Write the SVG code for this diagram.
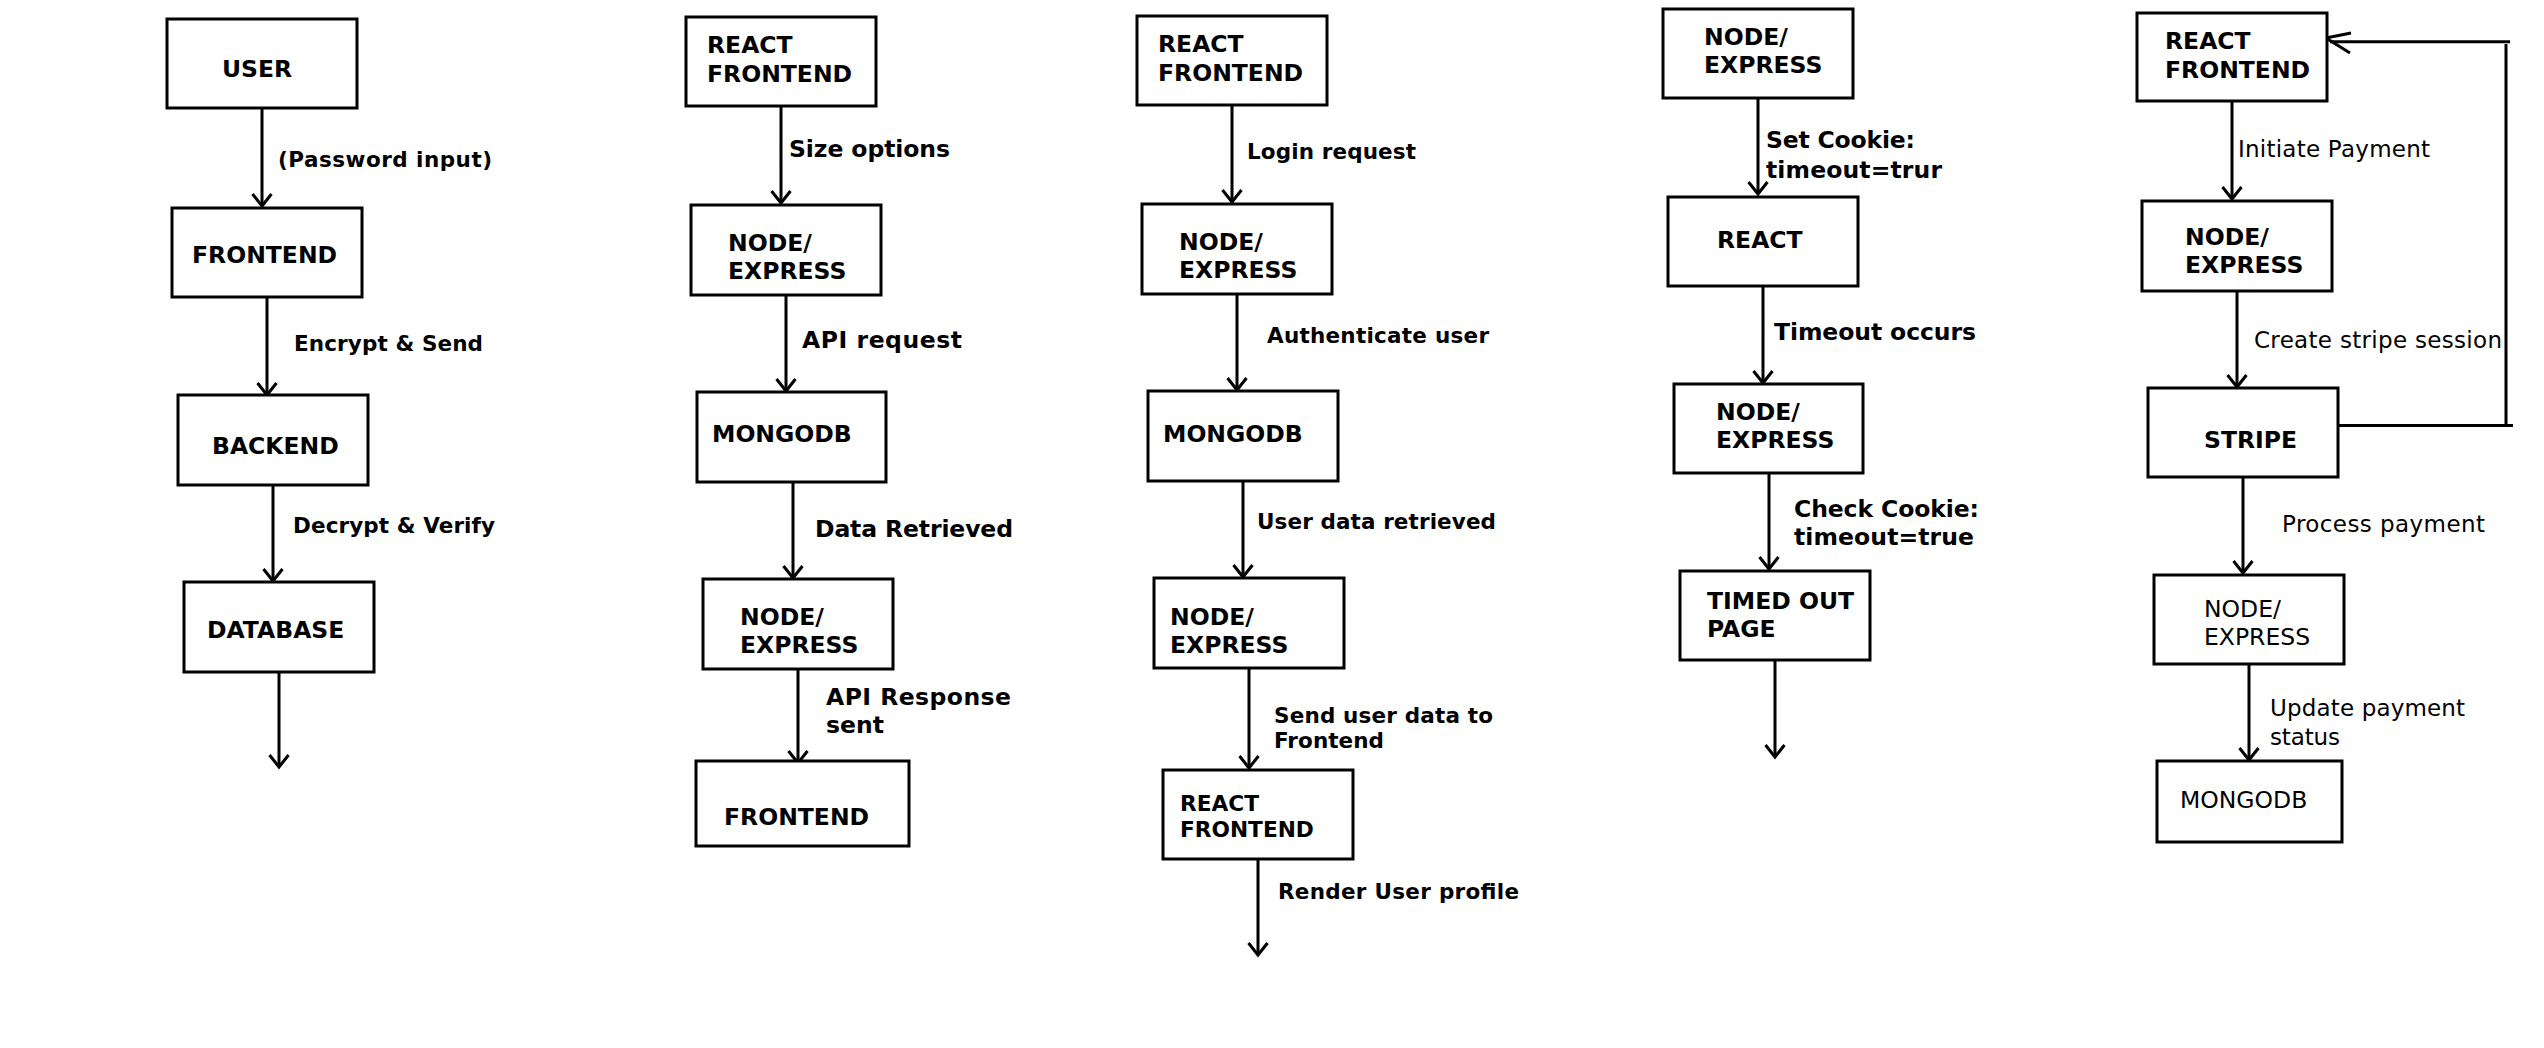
<svg xmlns="http://www.w3.org/2000/svg" width="2544" height="1048" viewBox="0 0 2544 1048">
<style>
.box{fill:#fff;stroke:#000;stroke-width:3}
.t{font-family:"DejaVu Sans","Liberation Sans",sans-serif;font-weight:bold;font-size:23.5px;fill:#000}
.tr{font-family:"DejaVu Sans","Liberation Sans",sans-serif;font-weight:normal;font-size:23.5px;fill:#000}
.l{font-family:"DejaVu Sans","Liberation Sans",sans-serif;font-weight:bold;font-size:21.5px;fill:#000}
.lb{font-family:"DejaVu Sans","Liberation Sans",sans-serif;font-weight:bold;font-size:23.5px;fill:#000}
.lr{font-family:"DejaVu Sans","Liberation Sans",sans-serif;font-weight:normal;font-size:23px;fill:#000}
.c{fill:none;stroke:#000;stroke-width:3}
</style>
<defs>
<marker id="arr" markerUnits="userSpaceOnUse" markerWidth="30" markerHeight="30" viewBox="-15 -15 30 30" refX="0" refY="0" orient="auto" overflow="visible">
<path d="M-12,-9.5 L0,0 L-12,9.5" fill="none" stroke="#000" stroke-width="3"/>
</marker>
</defs>
<rect width="2544" height="1048" fill="#fff"/>

<g id="connectors">
<line class="c" x1="262" y1="108" x2="262" y2="206" marker-end="url(#arr)"/>
<line class="c" x1="267" y1="297" x2="267" y2="395" marker-end="url(#arr)"/>
<line class="c" x1="273" y1="485" x2="273" y2="581" marker-end="url(#arr)"/>
<line class="c" x1="279" y1="672" x2="279" y2="767" marker-end="url(#arr)"/>
<line class="c" x1="781" y1="106" x2="781" y2="203" marker-end="url(#arr)"/>
<line class="c" x1="786" y1="295" x2="786" y2="391" marker-end="url(#arr)"/>
<line class="c" x1="793" y1="482" x2="793" y2="578" marker-end="url(#arr)"/>
<line class="c" x1="798" y1="669" x2="798" y2="763" marker-end="url(#arr)"/>
<line class="c" x1="1232" y1="105" x2="1232" y2="202" marker-end="url(#arr)"/>
<line class="c" x1="1237" y1="294" x2="1237" y2="390" marker-end="url(#arr)"/>
<line class="c" x1="1243" y1="481" x2="1243" y2="577" marker-end="url(#arr)"/>
<line class="c" x1="1249" y1="668" x2="1249" y2="768" marker-end="url(#arr)"/>
<line class="c" x1="1258" y1="859" x2="1258" y2="955" marker-end="url(#arr)"/>
<line class="c" x1="1758" y1="98" x2="1758" y2="194" marker-end="url(#arr)"/>
<line class="c" x1="1763" y1="286" x2="1763" y2="383" marker-end="url(#arr)"/>
<line class="c" x1="1769" y1="473" x2="1769" y2="569" marker-end="url(#arr)"/>
<line class="c" x1="1775" y1="660" x2="1775" y2="757" marker-end="url(#arr)"/>
<line class="c" x1="2232" y1="101" x2="2232" y2="199" marker-end="url(#arr)"/>
<line class="c" x1="2237" y1="291" x2="2237" y2="387" marker-end="url(#arr)"/>
<line class="c" x1="2243" y1="477" x2="2243" y2="573" marker-end="url(#arr)"/>
<line class="c" x1="2249" y1="664" x2="2249" y2="760" marker-end="url(#arr)"/>
<line class="c" x1="2332" y1="425.5" x2="2513" y2="425.5"/>
<line class="c" x1="2506" y1="44" x2="2506" y2="425.5"/>
<line class="c" x1="2510" y1="41.7" x2="2330" y2="41.7"/>
<path class="c" d="M2351,33 L2326,38 L2350,53"/>
</g>

<g id="label-c1">
<text class="l" x="278" y="167" textLength="214" lengthAdjust="spacing">(Password input)</text>
<text class="l" x="294" y="351" textLength="189" lengthAdjust="spacing">Encrypt &amp; Send</text>
<text class="l" x="293" y="533" textLength="202" lengthAdjust="spacing">Decrypt &amp; Verify</text>
</g>
<g id="label-c2">
<text class="lb" x="789" y="157" textLength="161" lengthAdjust="spacing">Size options</text>
<text class="lb" x="802" y="348" textLength="160" lengthAdjust="spacing">API request</text>
<text class="lb" x="815" y="537" textLength="198" lengthAdjust="spacing">Data Retrieved</text>
<text class="lb" x="826" y="705" textLength="185" lengthAdjust="spacing">API Response</text>
<text class="lb" x="826" y="733">sent</text>
</g>
<g id="label-c3">
<text class="l" x="1247" y="159" textLength="169" lengthAdjust="spacing">Login request</text>
<text class="l" x="1267" y="343" textLength="222" lengthAdjust="spacing">Authenticate user</text>
<text class="l" x="1257" y="529" textLength="239" lengthAdjust="spacing">User data retrieved</text>
<text class="l" x="1274" y="723" textLength="219" lengthAdjust="spacing">Send user data to</text>
<text class="l" x="1274" y="748" textLength="110" lengthAdjust="spacing">Frontend</text>
<text class="l" x="1278" y="899" textLength="241" lengthAdjust="spacing">Render User profile</text>
</g>
<g id="label-c4">
<text class="lb" x="1766" y="148" textLength="149" lengthAdjust="spacing">Set Cookie:</text>
<text class="lb" x="1766" y="178" textLength="176" lengthAdjust="spacing">timeout=trur</text>
<text class="lb" x="1774" y="340" textLength="202" lengthAdjust="spacing">Timeout occurs</text>
<text class="lb" x="1794" y="517" textLength="185" lengthAdjust="spacing">Check Cookie:</text>
<text class="lb" x="1794" y="545" textLength="180" lengthAdjust="spacing">timeout=true</text>
</g>
<g id="label-c5">
<text class="lr" x="2238" y="157" textLength="192" lengthAdjust="spacing">Initiate Payment</text>
<text class="lr" x="2254" y="348" textLength="248" lengthAdjust="spacing">Create stripe session</text>
<text class="lr" x="2282" y="532" textLength="203" lengthAdjust="spacing">Process payment</text>
<text class="lr" x="2270" y="716" textLength="195" lengthAdjust="spacing">Update payment</text>
<text class="lr" x="2270" y="745" textLength="70" lengthAdjust="spacing">status</text>
</g>

<g id="user"><rect class="box" x="167" y="19" width="190" height="89"/><text class="t" x="222" y="77">USER</text></g>
<g id="frontend1"><rect class="box" x="172" y="208" width="190" height="89"/><text class="t" x="192" y="263">FRONTEND</text></g>
<g id="backend"><rect class="box" x="178" y="395" width="190" height="90"/><text class="t" x="212" y="454">BACKEND</text></g>
<g id="database"><rect class="box" x="184" y="582" width="190" height="90"/><text class="t" x="207" y="638">DATABASE</text></g>

<g id="react2"><rect class="box" x="686" y="17" width="190" height="89"/><text class="t" x="707" y="53">REACT</text><text class="t" x="707" y="82">FRONTEND</text></g>
<g id="node2a"><rect class="box" x="691" y="205" width="190" height="90"/><text class="t" x="728" y="251">NODE/</text><text class="t" x="728" y="279">EXPRESS</text></g>
<g id="mongo2"><rect class="box" x="697" y="392" width="189" height="90"/><text class="t" x="712" y="442">MONGODB</text></g>
<g id="node2b"><rect class="box" x="703" y="579" width="190" height="90"/><text class="t" x="740" y="625">NODE/</text><text class="t" x="740" y="653">EXPRESS</text></g>
<g id="frontend2"><rect class="box" x="696" y="761" width="213" height="85"/><text class="t" x="724" y="825">FRONTEND</text></g>

<g id="react3a"><rect class="box" x="1137" y="16" width="190" height="89"/><text class="t" x="1158" y="52">REACT</text><text class="t" x="1158" y="81">FRONTEND</text></g>
<g id="node3a"><rect class="box" x="1142" y="204" width="190" height="90"/><text class="t" x="1179" y="250">NODE/</text><text class="t" x="1179" y="278">EXPRESS</text></g>
<g id="mongo3"><rect class="box" x="1148" y="391" width="190" height="90"/><text class="t" x="1163" y="442">MONGODB</text></g>
<g id="node3b"><rect class="box" x="1154" y="578" width="190" height="90"/><text class="t" x="1170" y="625">NODE/</text><text class="t" x="1170" y="653">EXPRESS</text></g>
<g id="react3b"><rect class="box" x="1163" y="770" width="190" height="89"/><text class="t" style="font-size:21.7px" x="1180" y="811">REACT</text><text class="t" style="font-size:21.7px" x="1180" y="837">FRONTEND</text></g>

<g id="node4a"><rect class="box" x="1663" y="9" width="190" height="89"/><text class="t" x="1704" y="45">NODE/</text><text class="t" x="1704" y="73">EXPRESS</text></g>
<g id="react4"><rect class="box" x="1668" y="197" width="190" height="89"/><text class="t" x="1717" y="248">REACT</text></g>
<g id="node4b"><rect class="box" x="1674" y="384" width="189" height="89"/><text class="t" x="1716" y="420">NODE/</text><text class="t" x="1716" y="448">EXPRESS</text></g>
<g id="timedout"><rect class="box" x="1680" y="571" width="190" height="89"/><text class="t" x="1707" y="609">TIMED OUT</text><text class="t" x="1707" y="637">PAGE</text></g>

<g id="react5"><rect class="box" x="2137" y="13" width="190" height="88"/><text class="t" x="2165" y="49">REACT</text><text class="t" x="2165" y="78">FRONTEND</text></g>
<g id="node5a"><rect class="box" x="2142" y="201" width="190" height="90"/><text class="t" x="2185" y="245">NODE/</text><text class="t" x="2185" y="273">EXPRESS</text></g>
<g id="stripe"><rect class="box" x="2148" y="388" width="190" height="89"/><text class="t" x="2204" y="448">STRIPE</text></g>
<g id="node5b"><rect class="box" x="2154" y="575" width="190" height="89"/><text class="tr" x="2204" y="617">NODE/</text><text class="tr" x="2204" y="645">EXPRESS</text></g>
<g id="mongo5"><rect class="box" x="2157" y="761" width="185" height="81"/><text class="tr" x="2180" y="808">MONGODB</text></g>
</svg>
